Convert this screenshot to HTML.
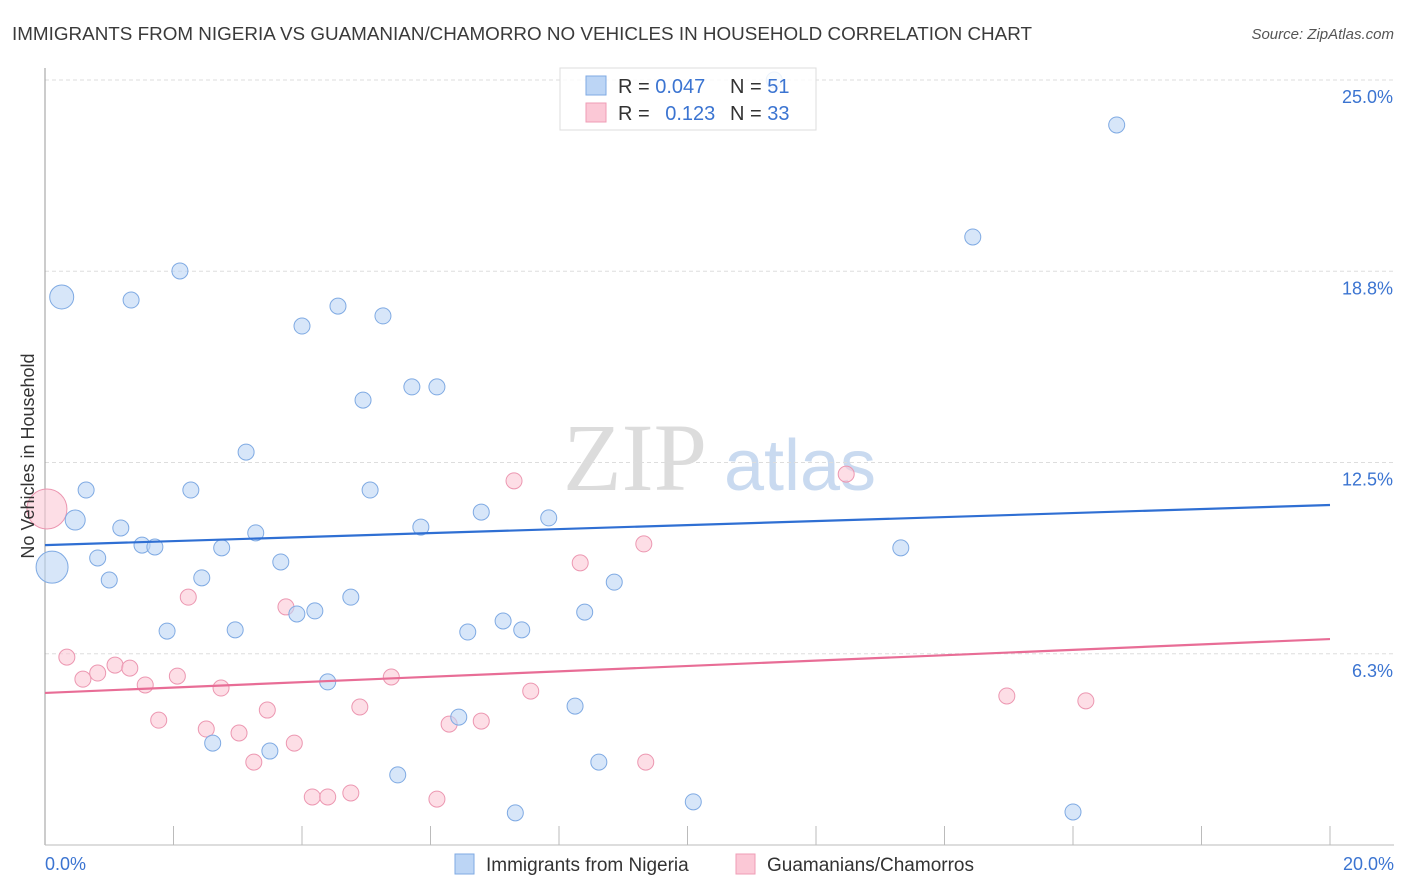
<!DOCTYPE html>
<html><head><meta charset="utf-8"><style>
body{margin:0;background:#fff;font-family:"Liberation Sans",sans-serif;}
</style></head><body>
<svg id="chart" width="1406" height="892" xmlns="http://www.w3.org/2000/svg" style="display:block">
<text x="12" y="40" font-size="18.5" fill="#3a3a3a" textLength="1020" lengthAdjust="spacingAndGlyphs">IMMIGRANTS FROM NIGERIA VS GUAMANIAN/CHAMORRO NO VEHICLES IN HOUSEHOLD CORRELATION CHART</text>
<text x="1394" y="39" font-size="15" fill="#555" font-style="italic" text-anchor="end">Source: ZipAtlas.com</text>
<g>
<text x="635" y="490" font-size="96" fill="#dcdcdc" font-family="Liberation Serif,serif" text-anchor="middle">ZIP</text>
<text x="800" y="490" font-size="72" fill="#c9daf0" text-anchor="middle">atlas</text>
</g>
<g id="grid"></g>
<g id="axes"></g>
<g id="marks"></g>
<text transform="translate(34,456) rotate(-90)" font-size="18" fill="#333" text-anchor="middle">No Vehicles in Household</text>
<g>
<rect x="560" y="68" width="256" height="62" fill="#fff" fill-opacity="0.85" stroke="#ddd"/>
<rect x="586" y="76" width="20" height="19" fill="#bcd5f5" stroke="#7faae3"/>
<rect x="586" y="103" width="20" height="19" fill="#fbc8d6" stroke="#ef9db6"/>
<text x="618" y="93" font-size="20" fill="#333">R = <tspan fill="#3b74d1">0.047</tspan></text>
<text x="730" y="93" font-size="20" fill="#333">N = <tspan fill="#3b74d1">51</tspan></text>
<text x="618" y="120" font-size="20" fill="#333">R = <tspan fill="#3b74d1" dx="10">0.123</tspan></text>
<text x="730" y="120" font-size="20" fill="#333">N = <tspan fill="#3b74d1">33</tspan></text>
</g>
<g>
<rect x="455" y="854" width="19" height="20" fill="#bcd5f5" stroke="#7faae3"/>
<text x="486" y="871" font-size="19" fill="#333">Immigrants from Nigeria</text>
<rect x="736" y="854" width="19" height="20" fill="#fbc8d6" stroke="#ef9db6"/>
<text x="767" y="871" font-size="19" fill="#333">Guamanians/Chamorros</text>
</g>
</svg>
<script>
const blueX=[0.26,1.34,2.10,4.00,4.56,5.26,4.95,5.71,6.10,3.13,0.64,0.47,2.27,5.06,1.18,1.51,1.71,0.82,2.75,3.28,1.00,2.44,3.67,5.85,6.79,7.84,0.11,1.90,2.96,3.92,4.20,4.76,6.58,7.13,7.42,8.40,8.86,4.40,6.44,8.25,2.61,3.50,5.49,8.62,7.32,10.09,16.00,13.32,14.44,16.68,11.35];
const blueY=[17.91,17.81,18.76,16.96,17.61,17.29,14.54,14.97,14.97,12.84,11.60,10.62,11.60,11.60,10.36,9.80,9.74,9.38,9.71,10.20,8.66,8.73,9.25,10.39,10.88,10.69,9.08,6.99,7.03,7.55,7.65,8.10,6.96,7.32,7.03,7.61,8.59,5.33,4.18,4.54,3.33,3.07,2.29,2.71,1.05,1.41,1.08,9.71,19.87,23.53,25.0];
const blueSize=[12,8,8,8,8,8,8,8,8,8,8,10,8,8,8,8,8,8,8,8,8,8,8,8,8,8,16,8,8,8,8,8,8,8,8,8,8,8,8,8,8,8,8,8,8,8,8,8,8,8,8];
const pinkX=[0.03,0.34,0.59,0.82,1.09,1.32,1.56,1.77,2.06,2.23,2.51,2.74,3.02,3.25,3.46,3.75,3.88,4.16,4.40,4.76,4.90,5.39,6.10,6.29,6.79,7.30,7.56,8.33,9.32,9.35,12.47,14.97,16.20];
const pinkY=[10.98,6.14,5.42,5.62,5.88,5.78,5.23,4.08,5.52,8.10,3.79,5.13,3.66,2.71,4.41,7.78,3.33,1.57,1.57,1.70,4.51,5.49,1.50,3.95,4.05,11.90,5.03,9.22,9.84,2.71,12.12,4.87,4.71];
const pinkSize=[20,8,8,8,8,8,8,8,8,8,8,8,8,8,8,8,8,8,8,8,8,8,8,8,8,8,8,8,8,8,8,8,8];
const blueTrend=[9.80,11.11];
const pinkTrend=[4.97,6.73];
const yTicks=[6.25,12.5,18.75,25];
const yTickLabels=["6.3%","12.5%","18.8%","25.0%"];
const xTickCount=10;
const xLabels=["0.0%","20.0%"];
const NS="http://www.w3.org/2000/svg";
const X0=45,X1=1330,Y0=845,YMAX=25,YTOP=80;
const sx=v=>X0+(v/20)*(X1-X0);
const sy=v=>Y0-(v/YMAX)*(Y0-YTOP);
function mk(tag,attrs,parent){const e=document.createElementNS(NS,tag);for(const k in attrs)e.setAttribute(k,attrs[k]);parent.appendChild(e);return e;}
const grid=document.getElementById('grid'),axes=document.getElementById('axes'),marks=document.getElementById('marks');
yTicks.forEach((t,i)=>{
 const l=mk('line',{x1:X0,x2:1394,y1:sy(t),y2:sy(t),stroke:'#ddd','stroke-dasharray':'4,3'},grid);
 
 
 const tx=mk('text',{x:1393,y:sy(t)+23,'font-size':18,fill:'#3b74d1','text-anchor':'end'},axes);
 tx.textContent=yTickLabels[i];
 
 
});
const ya=mk('line',{x1:X0,x2:X0,y1:68,y2:Y0,stroke:'#999'},axes);


const xa=mk('line',{x1:X0,x2:1394,y1:Y0,y2:Y0,stroke:'#bbb'},axes);


for(let i=1;i<=xTickCount;i++){const v=i*20/xTickCount;
 const t=mk('line',{x1:sx(v),x2:sx(v),y1:826,y2:Y0,stroke:'#bbb'},axes);
 
 }
[[0,'start',45],[20,'end',1394]].forEach((a,i)=>{
 const tx=mk('text',{x:a[2],y:870,'font-size':18,fill:'#3b74d1','text-anchor':a[1]},axes);
 tx.textContent=xLabels[i];
 
 
});
function pts(xs,ys,ss,fill,stroke,name){xs.forEach((x,i)=>{
 const c=mk('circle',{cx:sx(x),cy:sy(ys[i]),r:ss[i],fill:fill,'fill-opacity':0.6,stroke:stroke,'stroke-width':1},marks);
 
 
});}
pts(pinkX,pinkY,pinkSize,'#fbc8d6','#ec97b1','point-guamanian');
pts(blueX,blueY,blueSize,'#bcd5f5','#7faae3','point-nigeria');
const bl=mk('line',{x1:sx(0),y1:sy(blueTrend[0]),x2:sx(20),y2:sy(blueTrend[1]),stroke:'#2f6fd3','stroke-width':2.2},marks);


const pl=mk('line',{x1:sx(0),y1:sy(pinkTrend[0]),x2:sx(20),y2:sy(pinkTrend[1]),stroke:'#e86d96','stroke-width':2.2},marks);


</script>
</body></html>
